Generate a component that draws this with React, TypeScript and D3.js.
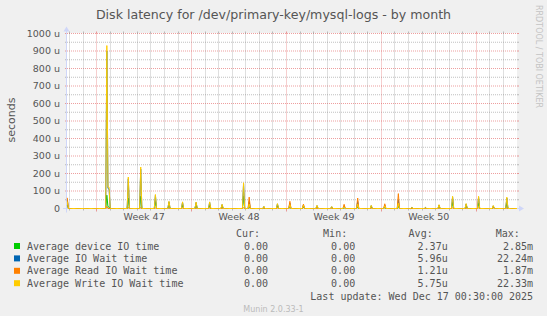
import React from "react";
import * as d3 from "d3";

const W = 547;
const H = 316;

const TITLE = "Disk latency for /dev/primary-key/mysql-logs - by month";
const Y_LABEL = "seconds";
const WATERMARK = "Munin 2.0.33-1";
const SIDE_TEXT = "RRDTOOL / TOBI OETIKER";
const LAST_UPDATE = "Last update: Wed Dec 17 00:30:00 2025";

const TIME_START = "2025-11-13T19:30:00Z";
const TIME_END = "2025-12-17T00:00:00Z";

const Y_MAX = 1000;
const Y_MAJOR = [0, 100, 200, 300, 400, 500, 600, 700, 800, 900, 1000];
const Y_MINOR = [50, 150, 250, 350, 450, 550, 650, 750, 850, 950];

const WEEK_STARTS = ["2025-11-16T00:00:00Z", "2025-11-23T00:00:00Z", "2025-11-30T00:00:00Z", "2025-12-07T00:00:00Z", "2025-12-14T00:00:00Z"];
const WEEK_LABELS = ["Week 47", "Week 48", "Week 49", "Week 50"];

const SERIES_NAMES = ["Average device IO time", "Average IO Wait time", "Average Read IO Wait time", "Average Write IO Wait time"];
const SERIES_COLORS = ["#00CC00", "#0066B3", "#FF8000", "#FFCC00"];
const CUR = ["0.00", "0.00", "0.00", "0.00"];
const MIN = ["0.00", "0.00", "0.00", "0.00"];
const AVG = ["2.37u", "5.96u", "1.21u", "5.75u"];
const MAX = ["2.85m", "22.24m", "1.87m", "22.33m"];

// Non-zero samples (2-hour averages), values in microseconds; all other samples read as 0
const SAMPLE_TIMES = [
  "2025-11-13T20:00:00Z",
  "2025-11-16T18:00:00Z",
  "2025-11-16T20:00:00Z",
  "2025-11-16T22:00:00Z",
  "2025-11-18T08:00:00Z",
  "2025-11-19T06:00:00Z",
  "2025-11-20T08:00:00Z",
  "2025-11-21T08:00:00Z",
  "2025-11-22T08:00:00Z",
  "2025-11-23T08:00:00Z",
  "2025-11-24T08:00:00Z",
  "2025-11-25T06:00:00Z",
  "2025-11-26T20:00:00Z",
  "2025-11-27T06:00:00Z",
  "2025-11-28T08:00:00Z",
  "2025-11-29T08:00:00Z",
  "2025-11-30T06:00:00Z",
  "2025-12-01T06:00:00Z",
  "2025-12-02T06:00:00Z",
  "2025-12-03T08:00:00Z",
  "2025-12-04T06:00:00Z",
  "2025-12-05T06:00:00Z",
  "2025-12-06T06:00:00Z",
  "2025-12-07T06:00:00Z",
  "2025-12-08T06:00:00Z",
  "2025-12-09T06:00:00Z",
  "2025-12-10T06:00:00Z",
  "2025-12-11T06:00:00Z",
  "2025-12-12T06:00:00Z",
  "2025-12-13T06:00:00Z",
  "2025-12-14T04:00:00Z",
  "2025-12-15T06:00:00Z",
  "2025-12-16T06:00:00Z",
];
const DEVICE_IO = [20, 76, 10, 8, 60, 70, 40, 20, 18, 20, 18, 12, 70, 10, 5, 15, 10, 8, 8, 5, 6, 10, 8, 6, 12, 3, 4, 10, 35, 14, 30, 8, 30];
const IO_WAIT = [50, 900, 115, 110, 170, 225, 75, 38, 35, 34, 35, 22, 140, 40, 11, 26, 30, 20, 16, 10, 15, 40, 16, 18, 50, 5, 6, 20, 66, 26, 65, 15, 60];
const READ_WAIT = [61, 12, 0, 0, 5, 5, 3, 5, 3, 3, 3, 3, 5, 65, 4, 3, 41, 25, 3, 2, 24, 60, 3, 27, 85, 1, 1, 4, 4, 3, 4, 5, 4];
const WRITE_WAIT = [40, 931, 122, 122, 180, 237, 80, 41, 38, 37, 38, 24, 147, 25, 12, 28, 22, 18, 18, 11, 10, 25, 18, 15, 30, 6, 6, 22, 70, 28, 70, 17, 65];

const SERIES_VALUES = [DEVICE_IO, IO_WAIT, READ_WAIT, WRITE_WAIT];

export default function App() {
  const t0 = new Date(TIME_START);
  const t1 = new Date(TIME_END);
  const x = d3.scaleUtc().domain([t0, t1]).range([67, 517]);
  const y = d3.scaleLinear().domain([0, Y_MAX]).range([208.5, 33.5]);
  const left = 67;
  const right = 517;
  const top = y(Y_MAX);
  const bottom = y(0);

  const grid2h = d3.utcHour.every(2)!.range(t0, t1);
  grid2h.push(t1);

  const seriesData = SERIES_VALUES.map((vals) => {
    const m = new Map<number, number>();
    SAMPLE_TIMES.forEach((s, i) => m.set(new Date(s).getTime(), vals[i]));
    return grid2h.map((d) => ({ t: d, v: m.get(d.getTime()) ?? 0 }));
  });

  const line = d3
    .line<{ t: Date; v: number }>()
    .x((d) => x(d.t))
    .y((d) => y(d.v));

  const days = d3.utcDay.range(d3.utcDay.ceil(t0), t1);
  const weekStarts = WEEK_STARTS.map((s) => new Date(s));
  const weekSet = new Set(weekStarts.map((d) => d.getTime()));
  const px = (v: number) => Math.floor(v) + 0.5;

  const gridGray = "rgba(130,130,130,0.5)";
  const gridRed = "rgba(224,80,80,0.55)";
  const axisColor = "#CFD6F8";
  const fontColor = "#555";
  const sans = "'DejaVu Sans', sans-serif";
  const mono = "'DejaVu Sans Mono', monospace";

  const rowBase = [249.6, 262.0, 274.4, 286.8];

  return (
    <svg width={W} height={H} style={{ display: "block", position: "absolute", left: 0, top: 0 }}>
      <rect x={0} y={0} width={W} height={H} fill="#F0F0F0" />
      <rect x={left} y={top - 0.5} width={right - left} height={bottom - top + 0.5} fill="#FFFFFF" />

      {/* horizontal grid */}
      {Y_MINOR.map((v) => (
        <g key={"hm" + v}>
          <line x1={left} x2={right} y1={y(v)} y2={y(v)} stroke={gridGray} strokeDasharray="1,1" />
          <line x1={left - 2} x2={left} y1={y(v)} y2={y(v)} stroke={gridGray} />
          <line x1={right} x2={right + 2} y1={y(v)} y2={y(v)} stroke={gridGray} />
        </g>
      ))}
      {Y_MAJOR.filter((v) => v > 0).map((v) => (
        <g key={"hM" + v}>
          <line x1={left} x2={right} y1={y(v)} y2={y(v)} stroke={gridRed} strokeDasharray="1,1" />
          <line x1={left - 2} x2={left} y1={y(v)} y2={y(v)} stroke={gridRed} />
          <line x1={right} x2={right + 2} y1={y(v)} y2={y(v)} stroke={gridRed} />
        </g>
      ))}

      {/* vertical grid */}
      {days
        .filter((d) => !weekSet.has(d.getTime()))
        .map((d) => (
          <g key={"vm" + d.getTime()}>
            <line x1={px(x(d))} x2={px(x(d))} y1={top} y2={bottom} stroke={gridGray} strokeDasharray="1,1" />
            <line x1={px(x(d))} x2={px(x(d))} y1={bottom} y2={bottom + 2} stroke={gridGray} />
            <line x1={px(x(d))} x2={px(x(d))} y1={top - 2} y2={top} stroke={gridGray} />
          </g>
        ))}
      {weekStarts.map((d) => (
        <g key={"vM" + d.getTime()}>
          <line x1={px(x(d))} x2={px(x(d))} y1={top} y2={bottom} stroke={gridRed} strokeDasharray="1,1" />
          <line x1={px(x(d))} x2={px(x(d))} y1={bottom} y2={bottom + 3} stroke={gridRed} />
          <line x1={px(x(d))} x2={px(x(d))} y1={top - 2} y2={top} stroke={gridRed} />
        </g>
      ))}

      {/* axes */}
      <line x1={left - 4} x2={right + 4} y1={bottom} y2={bottom} stroke={axisColor} />
      <line x1={left - 0.5} x2={left - 0.5} y1={bottom + 4} y2={top - 4} stroke={axisColor} />
      <path d={`M${right + 2},${bottom - 3}L${right + 7},${bottom}L${right + 2},${bottom + 3}Z`} fill={axisColor} />
      <path d={`M${left - 3.5},${top - 2}L${left - 0.5},${top - 7}L${left + 2.5},${top - 2}Z`} fill={axisColor} />

      {/* data lines */}
      {seriesData.map((data, i) => (
        <path key={"s" + i} d={line(data) ?? ""} fill="none" stroke={SERIES_COLORS[i]} strokeWidth={1} />
      ))}

      {/* y tick labels */}
      {Y_MAJOR.map((v) => (
        <text key={"yl" + v} x={60} y={y(v) + 3.4} textAnchor="end" fontFamily={sans} fontSize={9.5} fill={fontColor}>
          {v === 0 ? "0" : `${v} u`}
        </text>
      ))}

      {/* x labels */}
      {WEEK_LABELS.map((lab, i) => {
        const mid = new Date((weekStarts[i].getTime() + weekStarts[i + 1].getTime()) / 2);
        return (
          <text key={lab} x={x(mid)} y={219.8} textAnchor="middle" fontFamily={sans} fontSize={9.5} fill={fontColor}>
            {lab}
          </text>
        );
      })}

      {/* title */}
      <text x={W / 2} y={19} textAnchor="middle" fontFamily={sans} fontSize={12.6} fill={fontColor}>
        {TITLE}
      </text>

      {/* y axis label */}
      <text transform="translate(15,120) rotate(-90)" textAnchor="middle" fontFamily={sans} fontSize={11} fill={fontColor}>
        {Y_LABEL}
      </text>

      {/* side watermark */}
      <text transform="translate(535.5,5) rotate(90)" textAnchor="start" fontFamily={sans} fontSize={8} fill="#C4C4C4">
        {SIDE_TEXT}
      </text>

      {/* legend */}
      <g fontFamily={mono} fontSize={10} fill={fontColor}>
        <text x={260} y={237.2} textAnchor="end">Cur:</text>
        <text x={347.2} y={237.2} textAnchor="end">Min:</text>
        <text x={432.7} y={237.2} textAnchor="end">Avg:</text>
        <text x={519.9} y={237.2} textAnchor="end">Max:</text>
        {SERIES_NAMES.map((name, i) => (
          <g key={name}>
            <rect x={14} y={rowBase[i] - 6.6} width={6} height={6} fill={SERIES_COLORS[i]} />
            <text x={26.9} y={rowBase[i]}>{name}</text>
            <text x={268} y={rowBase[i]} textAnchor="end">{CUR[i]}</text>
            <text x={355.2} y={rowBase[i]} textAnchor="end">{MIN[i]}</text>
            <text x={447.7} y={rowBase[i]} textAnchor="end">{AVG[i]}</text>
            <text x={533.1} y={rowBase[i]} textAnchor="end">{MAX[i]}</text>
          </g>
        ))}
        <text x={533.1} y={299.8} textAnchor="end">{LAST_UPDATE}</text>
      </g>

      <text x={W / 2} y={311.5} textAnchor="middle" fontFamily={sans} fontSize={8} fill="#BBBBBB">
        {WATERMARK}
      </text>
    </svg>
  );
}
